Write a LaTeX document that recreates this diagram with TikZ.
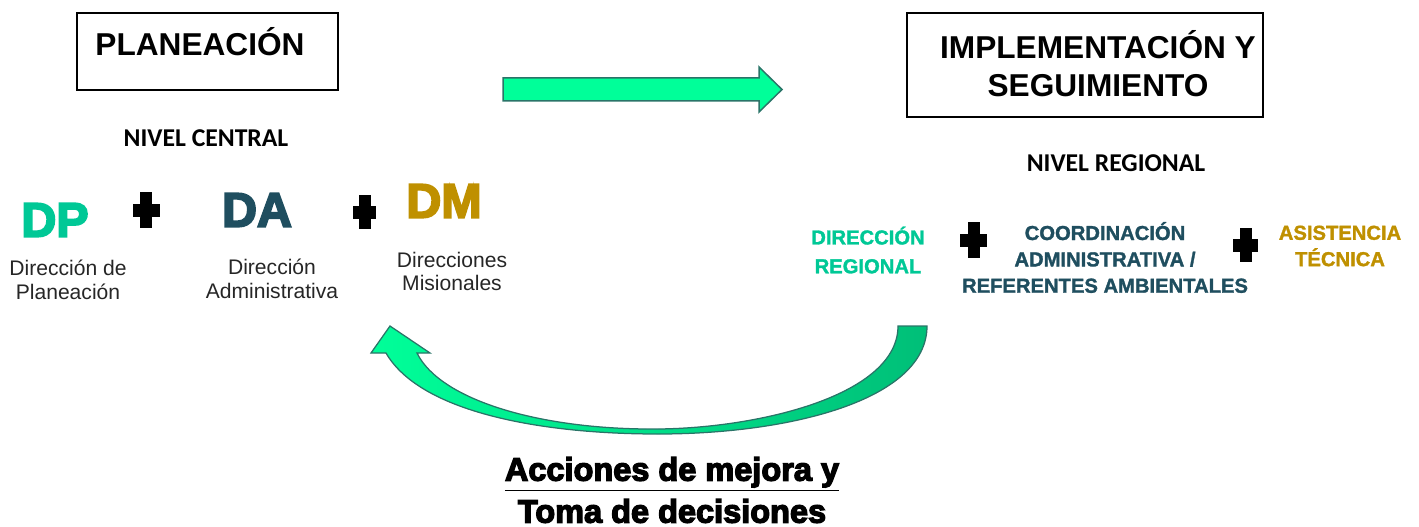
\documentclass[tikz,border=0pt]{standalone}
\usepackage{fontspec}
\setmainfont{Liberation Sans}
\newfontfamily\calibri{Carlito}
\newfontfamily\heavy[FakeBold=4]{Liberation Sans Bold}
\newfontfamily\semiheavy[FakeBold=1.5]{Liberation Sans Bold}
\usetikzlibrary{positioning}

\definecolor{tealgreen}{HTML}{00C896}
\definecolor{deepteal}{HTML}{1F4E5F}
\definecolor{goldtone}{HTML}{BF9000}
\definecolor{springfill}{HTML}{00FF99}
\definecolor{darkfill}{HTML}{00BF78}
\definecolor{arrowedge}{HTML}{2A7468}

% thick black cross, centre (#1,#2), size #3 x #4
\newcommand{\heavycross}[4]{%
  \fill[black] (#1-6,#2-#4/2) rectangle (#1+6,#2+#4/2);
  \fill[black] (#1-#3/2,#2-6.5) rectangle (#1+#3/2,#2+6.5);
}

\begin{document}
\begin{tikzpicture}[x=0.02cm, y=-0.02cm]

	\tikzset{titlebox/.style={draw, line width=0.5mm, inner sep=0pt}}
	\tikzset{titletext/.style={font=\fontsize{18}{21.5}\selectfont\bfseries, align=center}}
	\tikzset{leveltext/.style={font=\calibri\fontsize{14.6}{17}\selectfont\bfseries}}
	\tikzset{acronym/.style={font=\heavy\fontsize{27.5}{30}\selectfont, inner sep=0pt}}
	\tikzset{subtext/.style={font=\fontsize{12}{13.6}\selectfont, align=center, text=black!85}}
	\tikzset{regtext/.style={font=\semiheavy\fontsize{11.5}{15}\selectfont, align=center}}
	\tikzset{bottomtext/.style={font=\heavy\fontsize{18.5}{21}\selectfont, inner sep=0pt}}

	\useasboundingbox (0,0) rectangle (1419,527);

	%left title
	\draw[titlebox] (77,13) rectangle (338,90);
	\node[titletext] (plan) at (200,42) {PLANEACIÓN};

	%right title
	\draw[titlebox] (907,13) rectangle (1263,117);
	\node[titletext] (impl) at (1098,64) {IMPLEMENTACIÓN Y\\SEGUIMIENTO};

	\node[leveltext] (central) at (206,138) {NIVEL CENTRAL};
	\node[leveltext] (regional) at (1116,163) {NIVEL REGIONAL};

	%central level
	\node[acronym, text=tealgreen] (dp) at (55,220) {DP};
	\node[acronym, text=deepteal] (da) at (257,210) {DA};
	\node[acronym, text=goldtone] (dm) at (444,201) {DM};

	\heavycross{146}{210}{27}{36}
	\heavycross{364.5}{212}{23}{34}

	\node[subtext] (dpname) at (68,279.5) {Dirección de\\Planeación};
	\node[subtext] (daname) at (272,278.5) {Dirección\\Administrativa};
	\node[subtext] (dmname) at (452,271.5) {Direcciones\\Misionales};

	%regional level
	\node[regtext, text=tealgreen, font=\semiheavy\fontsize{11.5}{16.4}\selectfont] (dirreg) at (868,250) {DIRECCIÓN\\REGIONAL};
	\node[regtext, text=deepteal] (coord) at (1105,257.5) {COORDINACIÓN\\ADMINISTRATIVA /\\REFERENTES AMBIENTALES};
	\node[regtext, text=goldtone] (asist) at (1340,246) {ASISTENCIA\\TÉCNICA};

	\heavycross{973.5}{240}{27}{36}
	\heavycross{1245.5}{245}{25}{34}

	%forward arrow
	\filldraw[fill=springfill, draw=arrowedge, line width=0.3mm]
	(503,78) -- (759,78) -- (759,67) -- (782,89.5) -- (759,112) -- (759,101) -- (503,101) -- cycle;

	%return arrow
	\shadedraw[left color=springfill, right color=darkfill, draw=arrowedge, line width=0.25mm]
	(927,326) -- (898,326)
	.. controls (898,395) and (760,428) .. (658,429)
	.. controls (540,430) and (440,400) .. (417,353)
	-- (430,353) -- (390,326) -- (371,353) -- (386,353)
	.. controls (420,412) and (540,434) .. (658,434)
	.. controls (790,434) and (927,400) .. (927,326)
	-- cycle;

	\node[bottomtext] (mejora) at (672,474) {\underline{Acciones de mejora y}};
	\node[bottomtext] (toma) at (672,511) {Toma de decisiones};

\end{tikzpicture}
\end{document}
